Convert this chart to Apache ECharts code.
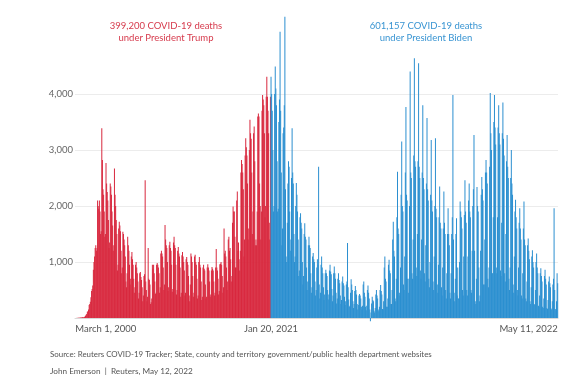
<!DOCTYPE html>
<html><head><meta charset="utf-8">
<script src="https://cdn.jsdelivr.net/npm/echarts@6/dist/echarts.min.js"></script>
<style>html,body{margin:0;padding:0;background:#fff}#c{width:578px;height:384px}</style>
</head><body><div id="c"></div>
<script>
// Daily reported US COVID-19 deaths, one row per week (Sun..Sat)
const startDate = '2020-03-01';
const trumpDeaths = [
1,0,1,3,2,3,5,
4,5,8,9,10,12,10,
13,20,27,40,58,73,110,
120,150,230,250,290,370,480,
520,580,860,1000,1100,1250,1300,
1200,1250,2100,2000,1950,2100,1900,
1500,1550,3390,2820,2300,2200,1900,
1450,1500,2770,2400,2250,2100,1750,
1250,1350,2400,2350,2200,1900,1650,
1200,1300,2670,2200,2000,1750,1500,
850,950,1600,1720,1650,1550,1200,
800,900,1540,1500,1400,1300,1100,
650,550,800,1450,1300,1200,950,
600,700,1100,1180,1050,950,700,
450,550,950,1000,900,800,650,
350,450,800,820,730,680,550,
300,400,750,780,2460,650,500,
300,380,1250,700,680,600,250,
280,350,950,880,950,800,650,
430,450,950,980,950,900,800,
450,550,1150,1200,1150,1100,900,
500,600,1660,1400,1300,1250,1000,
480,550,1300,1360,1250,1200,950,
470,520,1350,1450,1300,1250,950,
420,500,1200,1270,1150,1100,900,
380,450,1120,1180,1100,1000,850,
400,450,1050,1090,1000,950,750,
400,300,600,1150,1100,1000,750,
380,450,1100,1130,1000,950,700,
350,400,1000,1090,950,900,650,
320,380,900,950,880,850,600,
350,380,900,960,900,850,650,
380,420,850,910,880,850,650,
400,450,900,1230,900,850,700,
420,480,960,970,1000,950,750,
450,550,1600,1150,1200,1100,900,
500,650,1400,1450,1200,1250,1050,
650,750,1700,1990,1900,1900,1450,
900,900,2100,2260,1200,1350,1050,
850,1200,2600,2820,2750,2600,2300,
1100,1400,2900,3210,3050,2900,2400,
1400,1600,3000,3540,3300,3200,2600,
1500,1900,3300,3420,2800,1300,1400,
1300,1900,3600,3650,3600,2400,2000,
1400,1900,3700,3980,3900,3800,3300,
1800,2000,3950,4310,3950,3700,3300,
1700,1400,3950
];
const bidenDeaths = [
4310,4000,3700,3000,
1900,2000,4000,4490,4100,3800,2800,
1900,1950,3500,3900,5110,3700,2600,
1300,1600,3300,3400,3800,5380,2300,
1100,1000,1700,2400,2800,2700,1900,
1200,1400,2500,3390,2600,2400,1500,
1000,1100,2000,2410,2200,1900,1400,
750,850,1800,1870,1700,1600,1000,
600,750,1500,1690,1450,1400,900,
500,650,1300,1450,1300,1250,800,
450,550,1100,1160,1050,1000,650,
400,500,900,1050,950,2700,600,
350,450,950,1100,900,800,550,
320,420,800,860,800,750,500,
330,420,850,950,830,780,520,
300,400,800,920,800,700,450,
260,350,700,800,680,620,400,
250,320,650,740,620,580,380,
230,300,600,650,1340,550,330,
200,220,450,690,600,500,300,
180,250,480,570,500,420,250,
150,230,400,430,400,350,200,
150,220,600,650,450,380,200,
140,220,500,580,450,350,150,
-60,100,260,380,320,300,130,
100,180,420,500,400,350,150,
120,200,500,590,480,420,160,
150,300,900,1100,700,650,200,
200,350,950,1040,850,800,250,
250,500,1400,1720,1200,1100,350,
300,700,1800,2610,1600,1500,450,
400,900,2200,3150,2000,1900,600,
500,1100,2600,3770,2200,2100,700,
450,700,2000,4400,2600,2500,800,
700,1400,2900,4640,2800,2700,900,
750,1500,2800,4550,2700,2500,850,
700,1400,2600,3800,2500,2300,800,
650,1300,2400,3570,2300,2100,700,
550,1000,2200,3180,2100,1900,650,
500,1100,2000,3210,1950,1800,600,
450,950,1800,2350,1700,1600,550,
400,900,1600,2260,1700,1500,500,
350,800,1500,1960,1500,1300,450,
350,800,1500,1800,3980,1400,450,
300,700,1500,1780,400,900,350,
350,1000,2080,1900,1800,1600,500,
400,1100,1840,2460,1900,1700,500,
400,1100,2100,2400,1900,1800,500,
450,1200,2000,2300,3270,1200,300,
250,700,2340,2000,1900,900,300,
400,1200,2200,2520,2300,2100,600,
600,1400,2600,2820,2600,2400,700,
550,900,2700,4020,3300,3000,800,
800,1800,3500,3980,3400,3100,900,
800,1800,3400,3800,3300,3100,850,
750,1700,3300,3850,3200,2900,800,
650,1500,2800,3270,2700,2500,700,
500,900,2500,3000,2400,2200,600,
450,1100,1900,2110,1800,1600,500,
400,900,1700,1960,1600,1400,400,
350,800,1600,2080,1400,1300,350,
300,650,1300,1420,1200,1050,300,
250,550,1100,1210,1000,900,250,
230,500,1000,1150,900,800,220,
200,400,800,890,750,650,200,
180,350,750,860,700,600,180,
160,320,650,740,620,550,170,
150,300,600,700,1960,500,160,
140,300,800,620
];
const tickLabels = ['March 1, 2000', 'Jan 20, 2021', 'May 11, 2022'];
const yTickValues = [1000, 2000, 3000, 4000];
const titleTrump = ['399,200 COVID-19 deaths', 'under President Trump'];
const titleBiden = ['601,157 COVID-19 deaths', 'under President Biden'];
const sourceNote = 'Source: Reuters COVID-19 Tracker; State, county and territory government/public health department websites';
const credit = 'John Emerson  |  Reuters, May 12, 2022';

const RED = '#d8283e', BLUE = '#2b8fd0';
const total = trumpDeaths.length + bidenDeaths.length;
const categories = [];
const d0 = new Date(startDate + 'T00:00:00Z');
for (let i = 0; i < total; i++) {
  const d = new Date(d0.getTime() + i * 86400000);
  categories.push(d.toISOString().slice(0, 10));
}
const tickIndex = [0, trumpDeaths.length, total - 1];
const redData = trumpDeaths.concat(bidenDeaths.map(() => null));
const blueData = trumpDeaths.map(() => null).concat(bidenDeaths);
const FONT = 'Lato';

const chart = echarts.init(document.getElementById('c'), null, {renderer: 'canvas'});
chart.setOption({
  animation: false,
  backgroundColor: '#fff',
  textStyle: {fontFamily: FONT},
  title: [
    {text: titleTrump.join('\n'), left: 166, top: 20, textAlign: 'center', padding: 0,
     textStyle: {color: '#d63a4c', fontSize: 9.5, fontWeight: 'normal', lineHeight: 12, fontFamily: FONT}},
    {text: titleBiden.join('\n'), left: 426, top: 20, textAlign: 'center', padding: 0,
     textStyle: {color: '#3894d2', fontSize: 9.5, fontWeight: 'normal', lineHeight: 12, fontFamily: FONT}},
    {text: sourceNote, left: 50, top: 350, padding: 0,
     textStyle: {color: '#555', fontSize: 7.9, fontWeight: 'normal', fontFamily: FONT}},
    {text: credit, left: 50, top: 367, padding: 0,
     textStyle: {color: '#555', fontSize: 8.2, fontWeight: 'normal', fontFamily: FONT}}
  ],
  grid: {left: 75, right: 20, top: 94, bottom: 66, containLabel: false},
  xAxis: {
    type: 'category', data: categories, boundaryGap: true,
    axisTick: {show: false},
    axisLine: {lineStyle: {color: '#d8d8d8'}},
    axisLabel: {
      interval: (idx) => tickIndex.includes(idx),
      formatter: (v, idx) => { const k = tickIndex.indexOf(idx); return k >= 0 ? tickLabels[k] : ''; },
      color: '#555', fontSize: 9.5, margin: 6,
      alignMinLabel: 'left', alignMaxLabel: 'right'
    }
  },
  yAxis: {
    type: 'value', min: 0, max: 4000, interval: 1000,
    axisLine: {show: false}, axisTick: {show: false},
    axisLabel: {formatter: (v) => yTickValues.includes(v) ? v.toLocaleString('en-US') : '',
      color: '#666', fontSize: 9.5, margin: 2},
    splitLine: {lineStyle: {color: '#ececec'}}
  },
  series: [
    {type: 'bar', data: redData, barCategoryGap: '0%', barGap: '-100%', clip: false,
     itemStyle: {color: RED}, emphasis: {disabled: true}, silent: true},
    {type: 'bar', data: blueData, barCategoryGap: '0%', barGap: '-100%', clip: false,
     itemStyle: {color: BLUE}, emphasis: {disabled: true}, silent: true}
  ]
});
</script></body></html>
